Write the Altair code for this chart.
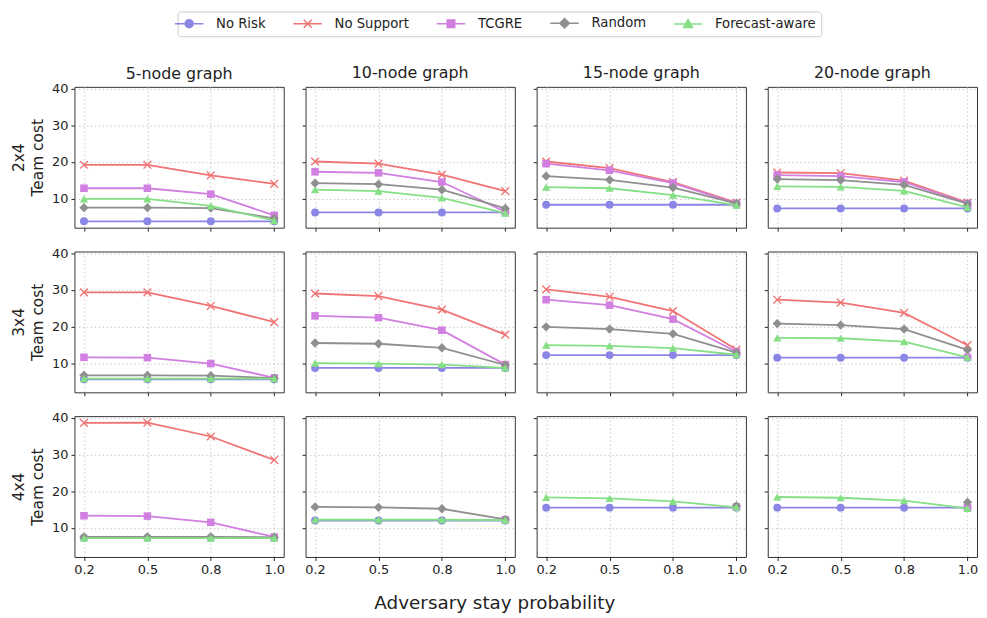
import altair as alt
import pandas as pd

GRIDS = ["2x4", "3x4", "4x4"]
GRAPHS = ["5-node graph", "10-node graph", "15-node graph", "20-node graph"]
STAY = ["0.2", "0.5", "0.8", "1.0"]
METHODS = ["No Risk", "No Support", "TCGRE", "Random", "Forecast-aware"]
COLORS = ["#8b86e6", "#f07474", "#d17fe0", "#8f8f8f", "#85df85"]

N = None
# one row per panel, in order: 2x4 (5, 10, 15, 20 nodes), 3x4 (...), 4x4 (...)
NO_RISK = [
    [3.8, 3.8, 3.8, 3.8], [6.2, 6.2, 6.2, 6.2], [8.3, 8.3, 8.3, 8.3], [7.3, 7.3, 7.3, 7.3],
    [5.6, 5.6, 5.6, 5.6], [8.7, 8.7, 8.7, 8.7], [12.2, 12.2, 12.2, 12.2], [11.5, 11.5, 11.5, 11.5],
    [7.3, 7.3, 7.3, 7.3], [12.0, 12.0, 12.0, 12.0], [15.5, 15.5, 15.5, 15.5], [15.5, 15.5, 15.5, 15.5],
]
NO_SUPPORT = [
    [19.2, 19.2, 16.3, 14.0], [20.1, 19.5, 16.5, 12.0], [20.1, 18.3, 14.5, 8.9], [17.1, 16.9, 14.9, 8.9],
    [29.3, 29.3, 25.6, 21.2], [29.0, 28.3, 24.6, 17.8], [30.1, 28.1, 24.2, 13.7], [27.3, 26.5, 23.7, 14.9],
    [38.6, 38.7, 34.9, 28.5], [N, N, N, N], [N, N, N, N], [N, N, N, N],
]
TCGRE = [
    [12.8, 12.8, 11.2, 5.4], [17.3, 17.0, 14.5, 6.4], [19.5, 17.7, 14.2, 8.7], [16.4, 16.1, 14.5, 8.7],
    [11.6, 11.5, 9.9, 6.0], [22.9, 22.4, 19.0, 9.6], [27.3, 25.8, 22.0, 13.1], [N, N, N, 11.6],
    [13.3, 13.2, 11.5, 7.5], [N, N, N, 12.2], [N, N, N, 15.7], [N, N, N, 15.5],
]
RANDOM = [
    [7.5, 7.5, 7.4, 4.6], [14.2, 13.9, 12.4, 7.3], [16.1, 15.1, 13.0, 8.7], [15.3, 15.0, 13.7, 8.6],
    [6.7, 6.7, 6.6, 5.9], [15.5, 15.3, 14.2, 9.5], [19.9, 19.3, 18.0, 12.9], [20.8, 20.4, 19.3, 13.6],
    [7.5, 7.5, 7.5, 7.4], [15.7, 15.6, 15.2, 12.3], [N, N, N, 16.0], [N, N, N, 17.0],
]
FORECAST = [
    [9.9, 9.9, 8.0, 4.0], [12.4, 12.0, 10.2, 6.0], [13.1, 12.8, 10.9, 8.2], [13.3, 13.2, 12.1, 7.6],
    [5.8, 5.8, 5.8, 5.8], [10.0, 9.9, 9.6, 8.7], [14.9, 14.7, 14.1, 12.3], [16.9, 16.8, 15.9, 11.6],
    [7.2, 7.2, 7.2, 7.2], [12.2, 12.2, 12.2, 12.1], [18.3, 18.0, 17.2, 15.6], [18.4, 18.2, 17.4, 15.3],
]
SERIES = [NO_RISK, NO_SUPPORT, TCGRE, RANDOM, FORECAST]

rows = []
for m, series in zip(METHODS, SERIES):
    for k, vals in enumerate(series):
        g = GRIDS[k // 4]
        c = GRAPHS[k % 4]
        for s, v in zip(STAY, vals):
            if v is not None:
                rows.append({"grid": g, "graph": c, "stay": s, "method": m, "cost": v})
df = pd.DataFrame(rows)

FONT = "DejaVu Sans"
TXT = "#222222"
X_PATH = "M-1,-1L1,1M-1,1L1,-1"
MARKERS = [
    dict(shape="circle", size=64, filled=True),
    dict(shape=X_PATH, size=60, filled=False),
    dict(shape="square", size=58, filled=True),
    dict(shape="diamond", size=88, filled=True),
    dict(shape="triangle-up", size=70, filled=True),
]
L = "M-3.6,0L3.6,0"
LEGEND_SHAPES = [
    L + "M1,0A1,1,0,1,1,-1,0A1,1,0,1,1,1,0Z",
    L + "M-1,-1L1,1M-1,1L1,-1",
    L + "M-0.95,-0.95L0.95,-0.95L0.95,0.95L-0.95,0.95Z",
    L + "M0,-1.2L1.2,0L0,1.2L-1.2,0Z",
    L + "M0,-1.1L1.1,0.9L-1.1,0.9Z",
]
YDOM = [2.05, 40.45]


def panel(gi, ci):
    g, c = GRIDS[gi], GRAPHS[ci]
    sub = df[(df.grid == g) & (df.graph == c)]
    base = alt.Chart(sub)
    xaxis = alt.Axis(
        title=None, labels=(gi == 2), labelFontSize=13, labelColor=TXT, labelAngle=0,
        tickColor=TXT, tickSize=3.5, domain=False, grid=True, gridColor="#c4c4c4",
        gridDash=[1.5, 2.5], gridWidth=0.9, labelPadding=3,
    )
    yaxis = alt.Axis(
        title=[g, "Team cost"] if ci == 0 else None, labels=(ci == 0), values=[10, 20, 30, 40],
        labelFontSize=13, labelColor=TXT, tickColor=TXT, tickSize=3.5, domain=False,
        grid=True, gridColor="#c4c4c4", gridDash=[1.5, 2.5], gridWidth=0.9, labelPadding=3,
        titleFontSize=15.5, titleFontWeight="normal", titleColor=TXT, titleLineHeight=19,
        titlePadding=6,
    )
    x = alt.X("stay:O", sort=STAY, scale=alt.Scale(type="point", domain=STAY, padding=0.15), axis=xaxis)
    y = alt.Y("cost:Q", scale=alt.Scale(domain=YDOM, nice=False, zero=False), axis=yaxis)
    layers = []
    for m, col, mk in zip(METHODS, COLORS, MARKERS):
        d = base.transform_filter(alt.datum.method == m)
        layers.append(d.mark_line(strokeWidth=1.8, color=col).encode(x=x, y=y))
        if mk["filled"]:
            pm = d.mark_point(shape=mk["shape"], size=mk["size"], filled=True, color=col, opacity=1)
        else:
            pm = d.mark_point(shape=mk["shape"], size=mk["size"], filled=False, color=col,
                              strokeWidth=1.4, opacity=1)
        layers.append(pm.encode(x=x, y=y))
    if gi == 0 and ci == 0:
        leg = base.transform_filter("false").mark_point(filled=True, opacity=1, strokeWidth=1.5).encode(
            x=x, y=y,
            color=alt.Color("method:N", scale=alt.Scale(domain=METHODS, range=COLORS),
                            legend=alt.Legend(
                                title=None, orient="none", legendX=104, legendY=-76,
                                direction="horizontal", columns=5, symbolSize=64,
                                symbolStrokeWidth=1.5, labelFontSize=13.3, labelColor=TXT,
                                labelOffset=20.5, columnPadding=24.5, padding=5,
                                strokeColor="#cccccc", fillColor="white", cornerRadius=3,
                                symbolOpacity=1, labelFont=FONT)),
            stroke=alt.Stroke("method:N", scale=alt.Scale(domain=METHODS, range=COLORS)),
            shape=alt.Shape("method:N", scale=alt.Scale(domain=METHODS, range=LEGEND_SHAPES)),
        )
        layers.append(leg)
    ch = alt.layer(*layers).properties(width=211, height=142)
    if gi == 0:
        ch = ch.properties(title=alt.TitleParams(c, fontSize=16, fontWeight="normal", color=TXT,
                                                 font=FONT, offset=(1 if ci == 0 else 6)))
    return ch


panels = [panel(gi, ci) for gi in range(3) for ci in range(4)]
chart = alt.concat(*panels, columns=4, spacing={"row": 24, "column": 22}, bounds="flush").properties(
    title=alt.TitleParams("Adversary stay probability", orient="bottom", anchor="middle",
                          fontSize=18.5, fontWeight="normal", color=TXT, font=FONT, offset=17),
    padding={"left": 3, "top": 0, "right": 0, "bottom": 0},
).configure(font=FONT).configure_view(stroke="#333333", strokeWidth=1)

chart.save("out.html", embed_options={"renderer": "svg", "actions": False})
